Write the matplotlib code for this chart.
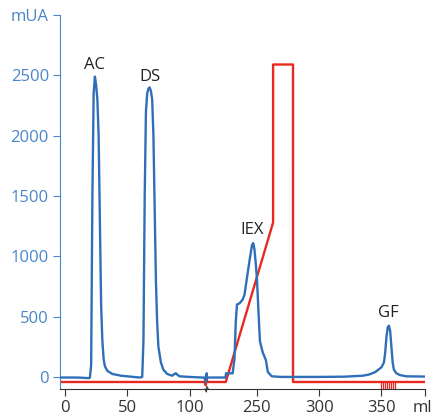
import numpy as np
import matplotlib
matplotlib.use("Agg")
import matplotlib.pyplot as plt

plt.rcParams["font.family"] = ["Open Sans", "DejaVu Sans"]

# ── data (ml, mUA) ────────────────────────────────────────────────────────────
uv_ml = [-4, 0, 10, 19, 20, 21, 22, 23, 24, 25, 26, 27, 28, 29, 30, 31, 32, 34, 38,
         45, 55, 60, 62, 63, 64, 65, 66, 67, 68, 69, 70, 71, 72, 73, 74, 75, 77, 79,
         82, 86, 88, 89, 90, 92, 100, 110, 112, 113, 113.8,
         210, 220, 224.8, 225.2, 230.5, 232, 233, 234, 236, 238.5, 240, 242, 244,
         246, 247, 248, 249, 250, 251, 252.4, 253.5, 254.8, 256, 257.2, 258.8,
         262, 270, 300, 320, 335, 340, 345, 350, 352, 353, 354, 355, 356, 357,
         358, 359, 360, 362, 365, 370, 385]
uv_mua = [-5, -5, -5, -10, -5, 100, 1500, 2350, 2490, 2420, 2300, 2000, 1300, 600,
          300, 150, 90, 50, 25,
          10, 0, -5, 0, 300, 1500, 2200, 2350, 2390, 2400, 2370, 2300, 2000, 1400,
          800, 450, 250, 120, 60,
          25, 10, 25, 30, 20, 5, 0, -5, -5, -45, 30,
          -5, -5, -5, 30, 30, 150, 450, 600, 610, 640, 680, 820, 960,
          1090, 1110, 1060, 950, 820, 600, 300, 250, 200, 170, 140, 40,
          5, 0, 0, 2, 10, 20, 40, 80, 120, 200, 330, 410, 425, 380,
          250, 120, 60, 30, 15, 5, 3]

cond_ml = [-4, 112, 113, 113.8, 210, 225, 263, 263.01, 279, 279.01, 385]
cond_mua = [-42, -42, -70, 0, -42, -42, 1280, 2590, 2590, -42, -42]

frac_ml = [350, 351.5, 353, 354.5, 356, 357.5, 359, 360.5]

peak_names = ["AC", "DS", "IEX", "GF"]
peak_ml = [24, 68, 246, 355.6]
peak_mua = [2590, 2490, 1220, 530]

xticks = [0, 50, 100, 250, 300, 350, 385]
xtick_labels = ["0", "50", "100", "250", "300", "350", ""]
yticks = [0, 500, 1000, 1500, 2000, 2500, 3000]
ytick_labels = ["0", "500", "1000", "1500", "2000", "2500", "mUA"]

# ── broken x axis: squeeze out 114..210 ml ────────────────────────────────────
B0, B1, EPS = 114.0, 210.0, 1e-3
GAP = (B1 - B0) * (1 - EPS)


def fwd(x):
    x = np.asarray(x, dtype=float)
    return np.where(x <= B0, x, np.where(x >= B1, x - GAP, B0 + (x - B0) * EPS))


def inv(y):
    y = np.asarray(y, dtype=float)
    lim = B0 + (B1 - B0) * EPS
    return np.where(y <= B0, y, np.where(y >= lim, y + GAP, B0 + (y - B0) / EPS))


BLUE_AX = "#4a86c8"
BLUE = "#2f6fb8"
RED = "#e8291f"
DARK = "#333333"

fig = plt.figure(figsize=(4.33, 4.18), dpi=100)
ax = fig.add_axes([0.1386, 0.0694, 0.843, 0.8946])
ax.set_xscale("function", functions=(fwd, inv))

ax.plot(uv_ml, uv_mua, color=BLUE, lw=1.7, zorder=3)
ax.plot(cond_ml, cond_mua, color=RED, lw=1.7, zorder=2)
ax.vlines(frac_ml, -100, -45, color=RED, lw=0.9, zorder=2)

for name, xm, ym in zip(peak_names, peak_ml, peak_mua):
    ax.text(xm, ym, name, ha="center", va="center", fontsize=12, color="#222222")

# small break mark on the x axis
ax.plot([112.5, 113.5, 113.9, 211], [-100, -125, -80, -100], color=DARK, lw=0.8,
        clip_on=False, zorder=4)

ax.set_xlim(-4, 385)
ax.set_ylim(-100, 3000)
ax.set_xticks(xticks)
ax.set_xticklabels(xtick_labels)
ax.set_yticks(yticks)
ax.set_yticklabels(ytick_labels)
ax.xaxis.set_minor_locator(matplotlib.ticker.NullLocator())

# unit label at the end of the x axis, nudged so it stays inside the canvas
ax.annotate("ml", xy=(385, 0), xycoords=("data", "axes fraction"),
            xytext=(-2, -8), textcoords="offset points",
            ha="center", va="top", fontsize=12, color=DARK)

for s in ("top", "right"):
    ax.spines[s].set_visible(False)
ax.spines["left"].set_color(BLUE_AX)
ax.spines["bottom"].set_color(DARK)
ax.tick_params(axis="y", colors=BLUE_AX, labelsize=12, length=5, pad=3)
ax.tick_params(axis="x", colors=DARK, labelsize=12, length=5, pad=3)

fig.savefig("out.png", dpi=100)
